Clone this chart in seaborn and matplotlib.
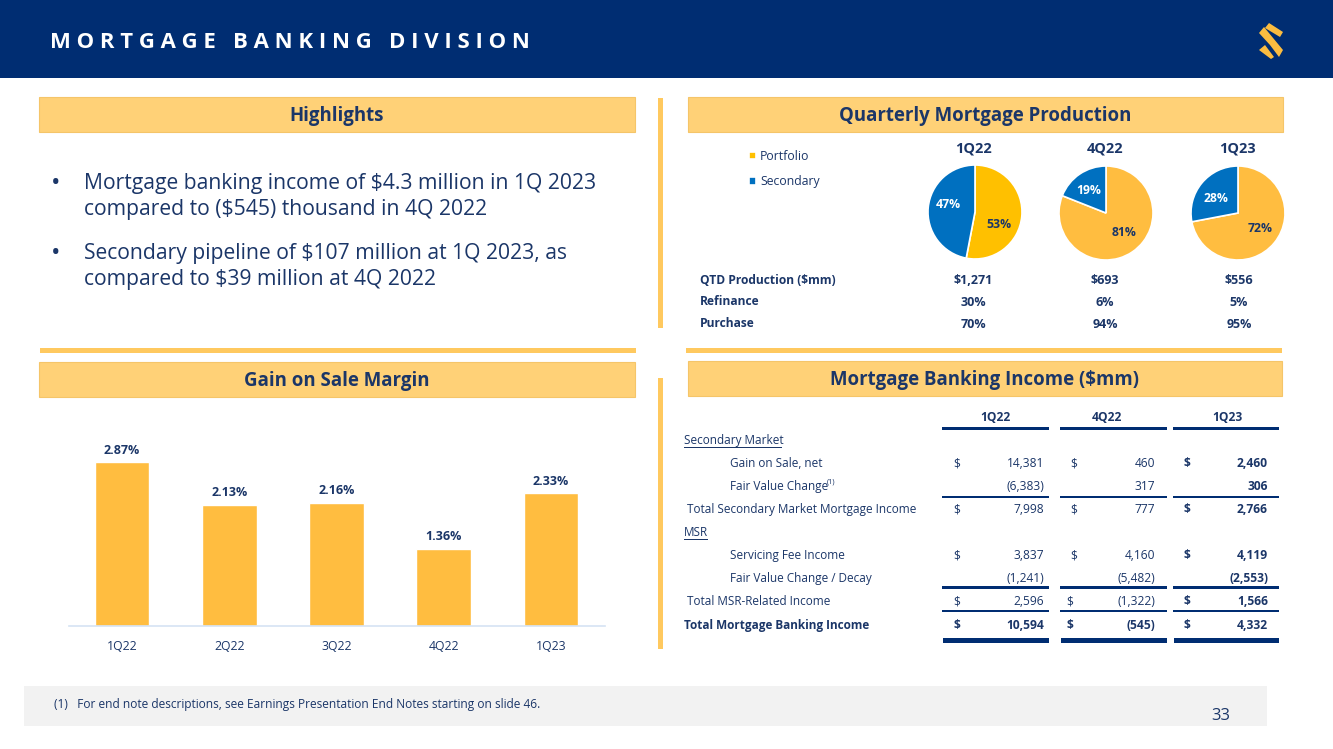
import pandas as pd
import matplotlib.pyplot as plt
from matplotlib.patches import Polygon, Rectangle
import seaborn as sns

W, H = 1333, 749
NAVY = "#002d72"
TEXT = "#1b3668"
GOLD = "#ffbd40"
BLUE = "#0070c0"

# Gain on sale margin
gos_quarters = ["1Q22", "2Q22", "3Q22", "4Q22", "1Q23"]
gos_margin = [2.87, 2.13, 2.16, 1.36, 2.33]

# Quarterly production
pie_quarters = ["1Q22", "4Q22", "1Q23"]
portfolio = [53, 81, 72]
secondary = [47, 19, 28]
production_rows = ["QTD Production ($mm)", "Refinance", "Purchase"]
qtd_production = ["$1,271", "$693", "$556"]
refinance = ["30%", "6%", "5%"]
purchase = ["70%", "94%", "95%"]

# Mortgage banking income table
income_labels = ["Secondary Market", "Gain on Sale, net", "Fair Value Change", "Total Secondary Market Mortgage Income",
                 "MSR", "Servicing Fee Income", "Fair Value Change / Decay", "Total MSR-Related Income",
                 "Total Mortgage Banking Income"]
income_1q22 = ["", "14,381", "(6,383)", "7,998", "", "3,837", "(1,241)", "2,596", "10,594"]
income_4q22 = ["", "460", "317", "777", "", "4,160", "(5,482)", "(1,322)", "(545)"]
income_1q23 = ["", "2,460", "306", "2,766", "", "4,119", "(2,553)", "1,566", "4,332"]
has_dollar = [False, True, False, True, False, True, False, True, True]

highlights = [["Mortgage banking income of $4.3 million in 1Q 2023", "compared to (\\$545) thousand in 4Q 2022"],
              ["Secondary pipeline of $107 million at 1Q 2023, as", "compared to $39 million at 4Q 2022"]]

sns.set_theme(style="white")
plt.rcParams["font.family"] = ["Open Sans", "DejaVu Sans"]


def px_axes(x0, y0, x1, y1):
    return fig.add_axes([x0 / W, 1 - y1 / H, (x1 - x0) / W, (y1 - y0) / H])


def px_text(x, y, s, size, color=TEXT, weight="normal", ha="left", **kw):
    # size is given in pixels, the figure is 100 dpi; y is the middle of the capitals
    return bg.text(x, y + size * 0.36, s, fontsize=size * 0.72, color=color, fontweight=weight,
                   ha=ha, va="baseline", **kw)


def band(x0, y0, x1, y1, color, **kw):
    bg.add_patch(Rectangle((x0, y0), x1 - x0, y1 - y0, facecolor=color, edgecolor=kw.pop("edgecolor", "none"), **kw))


fig = plt.figure(figsize=(W / 100, H / 100), dpi=100, facecolor="white")
bg = fig.add_axes([0, 0, 1, 1])
bg.set_xlim(0, W)
bg.set_ylim(H, 0)
bg.axis("off")

# Slide frame
band(0, 0, W, 78, NAVY)
px_text(50, 40, " ".join("MORTGAGE") + "   " + " ".join("BANKING") + "   " + " ".join("DIVISION"),
        22.1, color="white", weight="bold")
for pts in ([(1269, 23), (1283, 32), (1280, 37), (1265, 28)],
            [(1259, 33), (1264, 27), (1283, 50), (1279, 57), (1270, 45)],
            [(1259, 50), (1265, 45), (1274, 57), (1271, 59)]):
    bg.add_patch(Polygon(pts, closed=True, facecolor="#fbbc40", edgecolor="none"))

for x0, y0, x1, y1, title in [(39, 97, 635, 132, "Highlights"),
                              (688, 97, 1283, 132, "Quarterly Mortgage Production"),
                              (39, 362, 635, 397, "Gain on Sale Margin"),
                              (688, 361, 1282, 396, "Mortgage Banking Income ($mm)")]:
    band(x0, y0, x1, y1, "#ffd177", edgecolor="#f5c569", linewidth=0.8)
    px_text((x0 + x1) / 2, (y0 + y1) / 2, title, 18.6, weight="bold", ha="center")

band(658, 98, 663, 328, "#ffc95f")
band(658, 378, 663, 649, "#ffc95f")
band(40, 348, 636, 353, "#ffc95f")
band(686, 348, 1282, 353, "#ffc95f")
band(24, 686, 1267, 726, "#f2f2f2")
px_text(54, 704, "(1)   For end note descriptions, see Earnings Presentation End Notes starting on slide 46.", 11.85)
px_text(1221, 714, "33", 16.5, ha="center")

# Highlights
for para, y in zip(highlights, [181, 251]):
    px_text(51, y, "•", 25)
    for i, line in enumerate(para):
        px_text(84, y + i * 26, line, 21.2)

# Bars
bar_ax = px_axes(68.5, 430, 604.5, 626)
bars_df = pd.DataFrame({"quarter": gos_quarters, "margin": gos_margin})
sns.barplot(data=bars_df, x="quarter", y="margin", color=GOLD, saturation=1, width=0.51, ax=bar_ax)
bar_ax.set_ylim(0, 3.44)
bar_ax.set_xlabel("")
bar_ax.set_ylabel("")
bar_ax.set_yticks([])
bar_ax.set_facecolor("none")
bar_ax.tick_params(axis="x", length=0, pad=10, labelsize=12.3 * 0.72, labelcolor=TEXT)
sns.despine(ax=bar_ax, left=True)
bar_ax.spines["bottom"].set_color("#d5e3f3")
bar_ax.spines["bottom"].set_linewidth(1.2)
bar_ax.bar_label(bar_ax.containers[0], labels=[f"{v:.2f}%" for v in gos_margin], padding=4,
                 fontsize=12.5 * 0.72, fontweight="bold", color=TEXT)

# Pies
pie_centers = [(975, 212), (1106, 213), (1238, 213)]
pie_radius = 47
pie_colors = [["#ffc000", BLUE], [GOLD, BLUE], [GOLD, BLUE]]
# label offsets from the pie centre, in pixels
label_offsets = [[(24, 12), (-27, -8)], [(18, 19), (-17, -23)], [(22, 15), (-22, -15)]]
wedges = None
for i, quarter in enumerate(pie_quarters):
    cx, cy = pie_centers[i]
    pad = pie_radius + 2
    ax = px_axes(cx - pad, cy - pad, cx + pad, cy + pad)
    w, _, autotexts = ax.pie([portfolio[i], secondary[i]], colors=pie_colors[i], startangle=90, counterclock=False,
                             radius=pie_radius / pad, autopct=lambda p: f"{p:.0f}%",
                             wedgeprops={"edgecolor": "white", "linewidth": 1.2},
                             textprops={"fontsize": 12.3 * 0.72, "fontweight": "bold"})
    ax.set_xlim(-1, 1)
    ax.set_ylim(-1, 1)
    for t, (dx, dy), col in zip(autotexts, label_offsets[i], [TEXT, "white"]):
        t.set_position((dx / pad, -dy / pad))
        t.set_color(col)
    px_text(cx - 1 if i else cx - 2, 147, quarter, 14.5, weight="bold", ha="center")
    if i == 0:
        wedges = w

fig.legend(handles=wedges, labels=["Portfolio", "Secondary"], loc="upper left", bbox_to_anchor=(749 / W, 1 - 150 / H),
           frameon=False, handlelength=0.55, handleheight=0.55, handletextpad=0.35, labelspacing=1.0,
           fontsize=12.3 * 0.72, labelcolor=TEXT, borderpad=0, borderaxespad=0)

# Production table under the pies
for label, vals, y in zip(production_rows, [qtd_production, refinance, purchase], [280, 301, 323]):
    px_text(700, y, label, 12, weight="bold")
    for x, v in zip([973, 1105, 1239], vals):
        px_text(x, y, v, 12.5, weight="bold", ha="center")

# Income table
table_cols = [(942, 1049, 957, 1044), (1060, 1167, 1074, 1155), (1173, 1279, 1187, 1268)]
header_x = [995, 1107, 1227]
row_y = [440, 463, 486, 509, 532, 555, 578, 601, 625]
label_x = [684, 730, 730, 687, 684, 730, 730, 687, 684]
for q, hx, (x0, x1, _, _) in zip(pie_quarters, header_x, table_cols):
    px_text(hx, 417, q, 12, weight="bold", ha="center")
    band(x0, 427, x1, 429.5, NAVY)
    band(x0, 495.5, x1, 498, NAVY)
    band(x0, 586, x1, 588.5, NAVY)
    band(x0, 609.5, x1, 612, NAVY)
    band(x0 + 1, 638, x1, 643, NAVY)

for r, label in enumerate(income_labels):
    y = row_y[r]
    is_total = r == 8
    weight = "bold" if is_total else "normal"
    px_text(label_x[r], y, label, 11.8, weight=weight)
    if r in (0, 4):
        width = 98 if r == 0 else 24
        band(684, y + 7, 684 + width, y + 8, TEXT)
    if r == 2:
        px_text(827, y - 5, "(1)", 7.5)
    for c, vals in enumerate([income_1q22, income_4q22, income_1q23]):
        if not vals[r]:
            continue
        w = "bold" if (c == 2 or is_total) else "normal"
        dollar_x = table_cols[c][2]
        if c == 1 and r >= 7:
            dollar_x -= 4
        if has_dollar[r]:
            px_text(dollar_x, y, "$", 12, weight=w, ha="center")
        px_text(table_cols[c][3], y, vals[r], 12, weight=w, ha="right")

fig.savefig("out.png", dpi=100)
